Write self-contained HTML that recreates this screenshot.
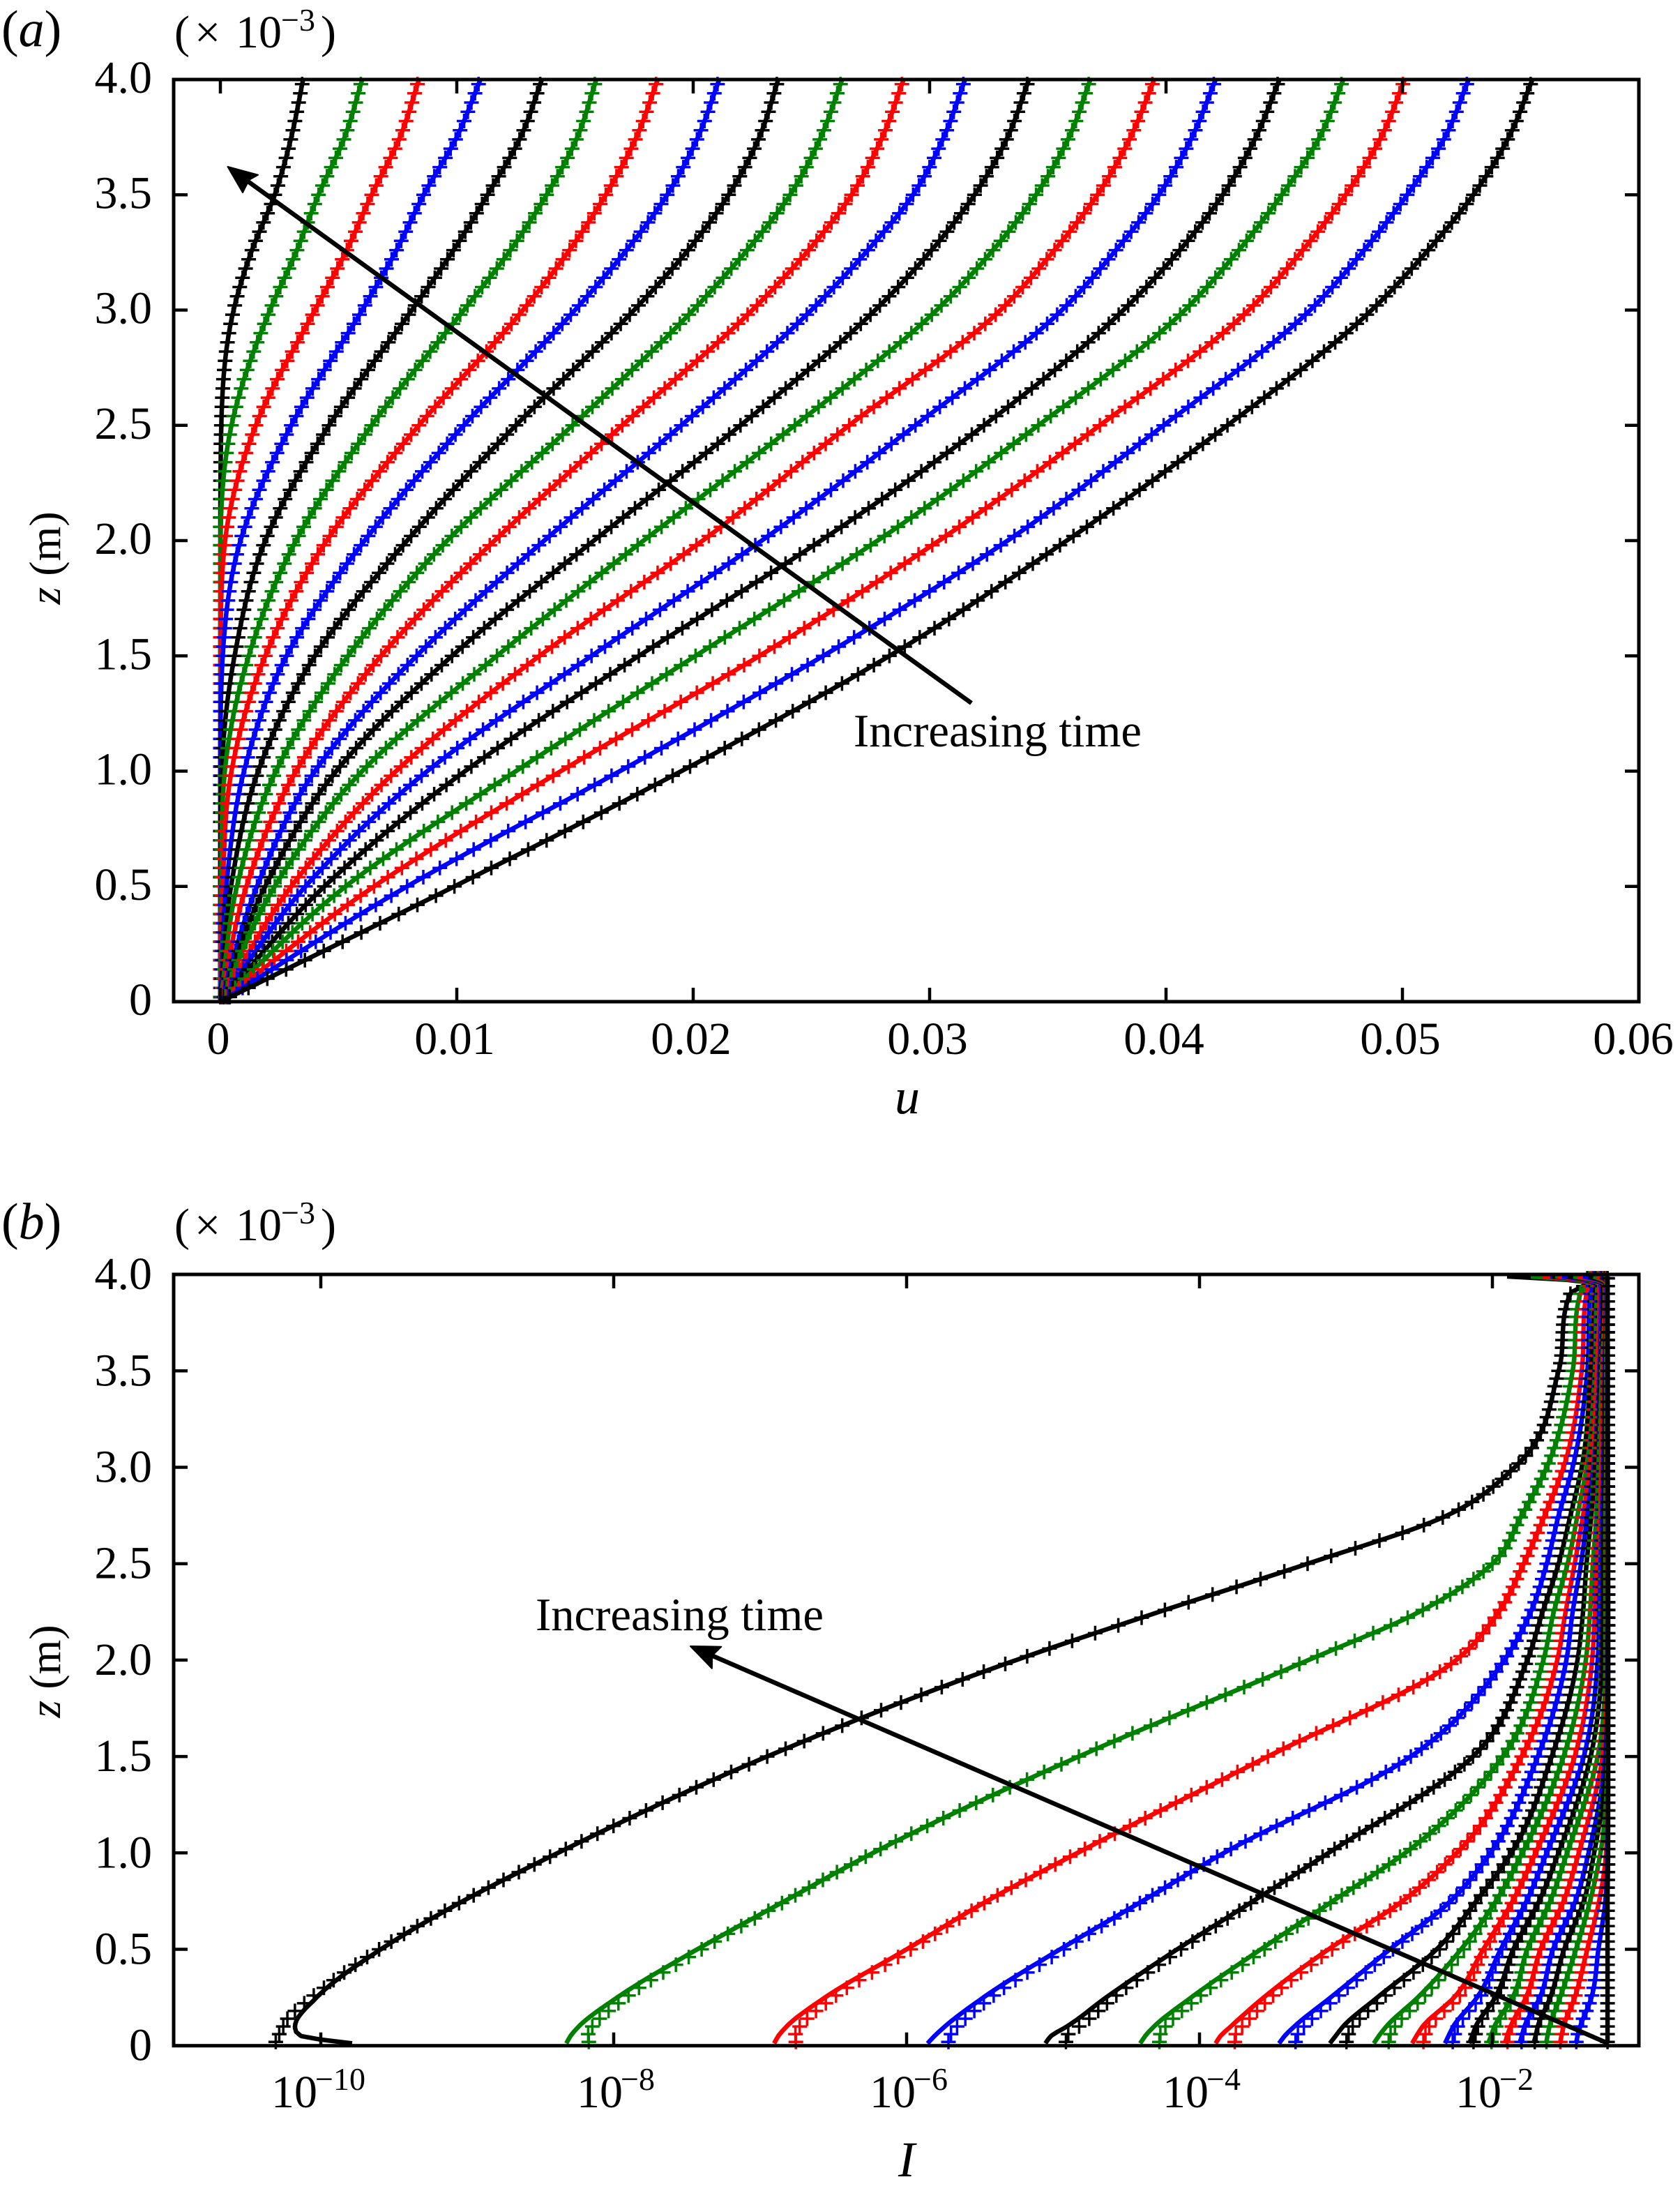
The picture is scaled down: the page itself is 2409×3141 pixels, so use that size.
<!DOCTYPE html>
<html lang="en">
<head>
<meta charset="utf-8">
<title>Velocity and intensity profiles</title>
<style>
html,body{margin:0;padding:0;background:#fff}
svg{display:block}
text{font-family:"Liberation Serif",serif;fill:#000}
.tick-text{font-size:66px}
.sup-text{font-size:46px}
.it{font-style:italic}
</style>
</head>
<body>
<svg id="chart" xmlns="http://www.w3.org/2000/svg" width="2409" height="3141" viewBox="0 0 2409 3141">
  <rect x="0" y="0" width="2409" height="3141" fill="#fff"/>
  <g id="panelA"></g>
  <g id="panelB"></g>

  <g>
    <text x="2" y="66" font-size="74"><tspan>(</tspan><tspan class="it">a</tspan><tspan>)</tspan></text>
    <text x="250" y="68" font-size="66">(</text>
    <text x="279" y="68" font-size="66">×</text>
    <text x="338" y="68" font-size="66">10</text>
    <text x="403" y="44" class="sup-text">−3</text>
    <text x="460" y="68" font-size="66">)</text>
    <text x="1301" y="1596" font-size="72" class="it" text-anchor="middle">u</text>
    <text transform="translate(86,800) rotate(-90)" font-size="64" text-anchor="middle"><tspan class="it">z</tspan> (m)</text>
    <line x1="1393" y1="1008" x2="350" y2="256" stroke="#000" stroke-width="6.5"/>
    <polygon points="326.5,239 370,250.7 357,258 348,276" fill="#000" stroke="#000" stroke-width="2" stroke-linejoin="round"/>
    <text x="1224" y="1070" font-size="66.7">Increasing time</text>
  </g>

  <g>
    <text x="2" y="1776" font-size="74"><tspan>(</tspan><tspan class="it">b</tspan><tspan>)</tspan></text>
    <text x="250" y="1778" font-size="66">(</text>
    <text x="279" y="1778" font-size="66">×</text>
    <text x="338" y="1778" font-size="66">10</text>
    <text x="403" y="1754" class="sup-text">−3</text>
    <text x="460" y="1778" font-size="66">)</text>
    <text x="1300" y="3120" font-size="72" class="it" text-anchor="middle">I</text>
    <text transform="translate(86,2396) rotate(-90)" font-size="64" text-anchor="middle"><tspan class="it">z</tspan> (m)</text>
    <line x1="2305" y1="2929" x2="1020" y2="2373" stroke="#000" stroke-width="6.5"/>
    <polygon points="990,2360 1034.3,2360.7 1021.2,2373.5 1020.9,2391.9" fill="#000" stroke="#000" stroke-width="2" stroke-linejoin="round"/>
    <text x="768" y="2337" font-size="66.7">Increasing time</text>
  </g>
</svg>

<script>
// ---------- shared data ----------
const seriesColors = ['#000','#008000','#f00','#00f'];
const yTickValues = [0,0.5,1,1.5,2,2.5,3,3.5,4];
const yTickLabels = ['0','0.5','1.0','1.5','2.0','2.5','3.0','3.5','4.0'];
const markerCount = 100;
const markerStart = 0.02;
const markerStep = 0.04;

// ---------- panel (a) data: u at each z knot, one row per curve ----------
const uTickValues = [0,0.01,0.02,0.03,0.04,0.05,0.06];
const uTickLabels = ['0','0.01','0.02','0.03','0.04','0.05','0.06'];
const zKnotsA = [0,0.5,1,1.5,2,2.5,3,3.25,3.5,3.75,4];
const uCurve00 = [0,0,0,0,0,0.00004,0.00056,0.0013,0.0023,0.0030,0.0035];
const uCurve01 = [0,0,0,0,0.00001,0.00047,0.0021,0.0032,0.00415,0.00526,0.0060];
const uCurve02 = [0,0,0,0.00001,0.0002,0.0015,0.0040,0.0053,0.0064,0.0076,0.0084];
const uCurve03 = [0,0,0,0.0001,0.00085,0.0030,0.0060,0.0074,0.0086,0.0100,0.0110];
const uCurve04 = [0,0,0.00006,0.0006,0.0019,0.0046,0.0081,0.0098,0.0113,0.0127,0.0136];
const uCurve05 = [0,0.00003,0.00019,0.0012,0.0032,0.0064,0.0103,0.0122,0.0138,0.0151,0.0159];
const uCurve06 = [0,0.0001,0.00047,0.0019,0.0045,0.0084,0.0128,0.0147,0.0163,0.0176,0.0185];
const uCurve07 = [0,0.00025,0.0010,0.0028,0.0061,0.0103,0.0150,0.0171,0.0189,0.0202,0.0211];
const uCurve08 = [0,0.00045,0.0016,0.0040,0.0079,0.0125,0.0175,0.0197,0.0215,0.0228,0.0236];
const uCurve09 = [0,0.0007,0.00235,0.0054,0.0096,0.0149,0.0200,0.0222,0.0241,0.0254,0.0263];
const uCurve10 = [0,0.0011,0.0032,0.0068,0.0116,0.0170,0.0225,0.0248,0.0267,0.0280,0.0289];
const uCurve11 = [0,0.00155,0.0040,0.0083,0.0137,0.0195,0.0250,0.0273,0.0293,0.0306,0.0315];
const uCurve12 = [0,0.0019,0.0049,0.0098,0.0158,0.0220,0.0277,0.0300,0.0319,0.0333,0.0342];
const uCurve13 = [0,0.0023,0.0060,0.0117,0.0179,0.0243,0.0303,0.0326,0.0345,0.0359,0.0368];
const uCurve14 = [0,0.0030,0.00743,0.0135,0.0204,0.0266,0.0330,0.0352,0.0371,0.0385,0.0395];
const uCurve15 = [0,0.0036,0.00875,0.0157,0.0229,0.0294,0.0356,0.0378,0.0397,0.0411,0.0421];
const uCurve16 = [0,0.0044,0.01035,0.0177,0.0254,0.0323,0.0382,0.0405,0.0424,0.0438,0.0448];
const uCurve17 = [0,0.0053,0.0125,0.0201,0.0278,0.0346,0.0408,0.0430,0.0449,0.0465,0.0475];
const uCurve18 = [0,0.0065,0.0144,0.0228,0.0304,0.0372,0.0435,0.0457,0.0476,0.0491,0.0501];
const uCurve19 = [0,0.0079,0.0169,0.0255,0.0333,0.0399,0.0461,0.0483,0.0502,0.0518,0.0528];
const uCurve20 = [0,0.0099,0.0195,0.0283,0.0358,0.0426,0.0487,0.0510,0.0530,0.0545,0.0555];
const uCurves = [uCurve00,uCurve01,uCurve02,uCurve03,uCurve04,uCurve05,uCurve06,uCurve07,uCurve08,uCurve09,uCurve10,uCurve11,uCurve12,uCurve13,uCurve14,uCurve15,uCurve16,uCurve17,uCurve18,uCurve19,uCurve20];

// ---------- panel (b) data: log10(I) at each z knot, one row per curve ----------
const iTickExponents = [-10,-8,-6,-4,-2];
const iTickLabels = ['−10','−8','−6','−4','−2'];
const zKnotsB = [0.012,0.05,0.1,0.25,0.5,0.75,1,1.5,2,2.25,2.5,2.75,3,3.5,3.9,3.96,3.99];
const logICurve00 = [-9.786,-10.133,-10.176,-10.029,-9.590,-9.029,-8.381,-6.952,-5.252,-4.276,-3.262,-2.310,-1.848,-1.548,-1.467,-1.352,-1.900];
const logICurve01 = [-8.324,-8.295,-8.238,-7.976,-7.429,-6.833,-6.229,-4.824,-3.257,-2.500,-2.000,-1.800,-1.629,-1.452,-1.400,-1.338,-1.738];
const logICurve02 = [-6.905,-6.876,-6.819,-6.557,-6.000,-5.452,-4.833,-3.533,-2.248,-1.957,-1.786,-1.643,-1.514,-1.390,-1.357,-1.324,-1.657];
const logICurve03 = [-5.857,-5.810,-5.738,-5.476,-4.952,-4.390,-3.833,-2.557,-1.919,-1.738,-1.629,-1.548,-1.452,-1.352,-1.329,-1.310,-1.605];
const logICurve04 = [-5.052,-5.014,-4.905,-4.638,-4.152,-3.633,-3.119,-2.133,-1.762,-1.657,-1.548,-1.467,-1.390,-1.329,-1.300,-1.295,-1.590];
const logICurve05 = [-4.405,-4.371,-4.310,-4.057,-3.581,-3.090,-2.595,-1.929,-1.652,-1.581,-1.486,-1.419,-1.357,-1.300,-1.286,-1.281,-1.571];
const logICurve06 = [-3.890,-3.857,-3.786,-3.562,-3.119,-2.614,-2.243,-1.800,-1.557,-1.500,-1.438,-1.381,-1.333,-1.290,-1.271,-1.271,-1.557];
const logICurve07 = [-3.457,-3.419,-3.352,-3.105,-2.700,-2.286,-2.014,-1.690,-1.495,-1.452,-1.395,-1.352,-1.310,-1.271,-1.257,-1.262,-1.524];
const logICurve08 = [-3.110,-3.071,-3.019,-2.786,-2.381,-2.110,-1.871,-1.595,-1.419,-1.381,-1.357,-1.324,-1.300,-1.262,-1.243,-1.252,-1.486];
const logICurve09 = [-2.810,-2.776,-2.724,-2.510,-2.214,-1.976,-1.795,-1.514,-1.362,-1.333,-1.314,-1.290,-1.276,-1.252,-1.233,-1.243,-1.448];
const logICurve10 = [-2.548,-2.519,-2.476,-2.262,-2.062,-1.862,-1.705,-1.438,-1.319,-1.300,-1.286,-1.267,-1.257,-1.243,-1.229,-1.238,-1.419];
const logICurve11 = [-2.324,-2.300,-2.267,-2.105,-1.943,-1.767,-1.629,-1.376,-1.281,-1.271,-1.262,-1.252,-1.243,-1.233,-1.224,-1.233,-1.381];
const logICurve12 = [-2.157,-2.138,-2.114,-1.981,-1.857,-1.681,-1.548,-1.329,-1.252,-1.248,-1.243,-1.238,-1.233,-1.229,-1.219,-1.229,-1.343];
const logICurve13 = [-2.029,-2.010,-1.986,-1.862,-1.762,-1.605,-1.490,-1.281,-1.229,-1.229,-1.229,-1.229,-1.224,-1.224,-1.219,-1.224,-1.310];
const logICurve14 = [-1.914,-1.900,-1.876,-1.771,-1.671,-1.514,-1.410,-1.248,-1.219,-1.219,-1.219,-1.219,-1.219,-1.219,-1.219,-1.219,-1.286];
const logICurve15 = [-1.814,-1.800,-1.781,-1.676,-1.586,-1.433,-1.343,-1.229,-1.214,-1.214,-1.214,-1.214,-1.214,-1.214,-1.214,-1.214,-1.262];
const logICurve16 = [-1.719,-1.705,-1.690,-1.605,-1.510,-1.376,-1.305,-1.219,-1.212,-1.212,-1.214,-1.214,-1.214,-1.214,-1.214,-1.214,-1.248];
const logICurve17 = [-1.633,-1.624,-1.610,-1.538,-1.429,-1.333,-1.262,-1.214,-1.210,-1.212,-1.212,-1.214,-1.214,-1.214,-1.214,-1.214,-1.238];
const logICurve18 = [-1.538,-1.529,-1.514,-1.438,-1.352,-1.271,-1.224,-1.210,-1.210,-1.210,-1.212,-1.212,-1.214,-1.214,-1.214,-1.214,-1.229];
const logICurve19 = [-1.429,-1.419,-1.400,-1.324,-1.276,-1.229,-1.214,-1.210,-1.210,-1.210,-1.210,-1.212,-1.212,-1.214,-1.214,-1.214,-1.219];
const logICurve20 = [-1.214,-1.214,-1.214,-1.214,-1.214,-1.214,-1.210,-1.210,-1.210,-1.210,-1.210,-1.210,-1.212,-1.212,-1.214,-1.214,-1.214];
const logICurves = [logICurve00,logICurve01,logICurve02,logICurve03,logICurve04,logICurve05,logICurve06,logICurve07,logICurve08,logICurve09,logICurve10,logICurve11,logICurve12,logICurve13,logICurve14,logICurve15,logICurve16,logICurve17,logICurve18,logICurve19,logICurve20];

// marker series in (b) depart from the line near z = 0: difference in decades
const markerShiftZ = [0.02,0.06,0.1,0.3,0.8];
const markerShift00 = [-0.44,-0.13,-0.08,-0.02,0];
const markerShift01 = [0.148,0.111,0.092,0.049,0];
const markerShift02 = [0.143,0.107,0.089,0.047,0];
const markerShift03 = [0.133,0.100,0.083,0.044,0];
const markerShift04 = [0.133,0.100,0.083,0.044,0];
const markerShift05 = [0.124,0.093,0.077,0.041,0];
const markerShift06 = [0.124,0.093,0.077,0.041,0];
const markerShift07 = [0.105,0.079,0.065,0.035,0];
const markerShift08 = [0.105,0.079,0.065,0.035,0];
const markerShift09 = [0.095,0.071,0.059,0.031,0];
const markerShift10 = [0.071,0.054,0.044,0.024,0];
const markerShift11 = [0.048,0.036,0.030,0.016,0];
const markerShift12 = [0.024,0.018,0.015,0.008,0];
const markerShift13 = [0.019,0.014,0.012,0.006,0];
const markerShift14 = [0.014,0.011,0.009,0.005,0];
const markerShift15 = [0.010,0.007,0.006,0.003,0];
const markerShift16 = [0.005,0.004,0.003,0.002,0];
const markerShift17 = [0,0,0,0,0];
const markerShift18 = [0,0,0,0,0];
const markerShift19 = [0,0,0,0,0];
const markerShift20 = [0,0,0,0,0];
const markerShifts = [markerShift00,markerShift01,markerShift02,markerShift03,markerShift04,markerShift05,markerShift06,markerShift07,markerShift08,markerShift09,markerShift10,markerShift11,markerShift12,markerShift13,markerShift14,markerShift15,markerShift16,markerShift17,markerShift18,markerShift19,markerShift20];

// ---------- axis functions ----------
const frameA = {left:249, right:2350, top:114, bottom:1436};
const frameB = {left:249, right:2350, top:1827, bottom:2932.7};
function xU(u){ return 316 + u*33900; }
function yA(z){ return frameA.bottom - z*330.5; }
function xI(logI){ return 2140 + (logI+2)*210; }
function yB(z){ return frameB.bottom - z*276.4; }

// ---------- helpers ----------
const NS = 'http://www.w3.org/2000/svg';
function svgEl(tag){ return document.createElementNS(NS, tag); }

function smoothCurve(xs, ys){
  const n = xs.length, d = [], m = new Array(n);
  for(let i=0;i<n-1;i++) d.push((ys[i+1]-ys[i])/(xs[i+1]-xs[i]));
  m[0] = d[0]; m[n-1] = d[n-2];
  for(let i=1;i<n-1;i++){
    if(d[i-1]*d[i] <= 0){ m[i] = 0; }
    else{
      const h0 = xs[i]-xs[i-1], h1 = xs[i+1]-xs[i];
      const avg = (h1*d[i-1]+h0*d[i])/(h0+h1);
      const lim = 3*Math.min(Math.abs(d[i-1]), Math.abs(d[i]));
      m[i] = Math.sign(avg)*Math.min(Math.abs(avg), lim);
    }
  }
  return function(x){
    if(x <= xs[0]) return ys[0];
    if(x >= xs[n-1]) return ys[n-1];
    let i = 0;
    while(x > xs[i+1]) i++;
    const h = xs[i+1]-xs[i], t = (x-xs[i])/h, t2 = t*t, t3 = t2*t;
    return (2*t3-3*t2+1)*ys[i] + (t3-2*t2+t)*h*m[i] + (-2*t3+3*t2)*ys[i+1] + (t3-t2)*h*m[i+1];
  };
}
function linear(xs, ys, x){
  if(x <= xs[0]) return ys[0];
  if(x >= xs[xs.length-1]) return ys[ys.length-1];
  let i = 0;
  while(x > xs[i+1]) i++;
  return ys[i] + (ys[i+1]-ys[i])*(x-xs[i])/(xs[i+1]-xs[i]);
}
function sampleZ(knots, step){
  const set = knots.slice();
  for(let z=knots[0]; z<knots[knots.length-1]; z+=step) set.push(z);
  return set.sort(function(a,b){return a-b;});
}

function drawFrame(group, f){
  const rect = svgEl('rect');
  
  
  rect.setAttribute('x', f.left);
  rect.setAttribute('y', f.top);
  rect.setAttribute('width', f.right-f.left);
  rect.setAttribute('height', f.bottom-f.top);
  rect.setAttribute('fill', 'none');
  rect.setAttribute('stroke', '#000');
  rect.setAttribute('stroke-width', '5');
  group.appendChild(rect);
}
function drawTickLine(group, x1, y1, x2, y2){
  const t = svgEl('line');
  
  
  t.setAttribute('x1', x1);
  t.setAttribute('y1', y1);
  t.setAttribute('x2', x2);
  t.setAttribute('y2', y2);
  t.setAttribute('stroke', '#000');
  t.setAttribute('stroke-width', '4.5');
  group.appendChild(t);
}
function drawYAxis(group, f, yFn, base){
  yTickValues.forEach(function(v, i){
    const y = yFn(v);
    if(i > 0 && i < yTickValues.length-1){
      drawTickLine(group, f.left, y, f.left+20, y);
      drawTickLine(group, f.right-20, y, f.right, y);
    }
    const label = svgEl('text');
    
    
    label.setAttribute('class', 'tick-text');
    label.setAttribute('x', 218);
    label.setAttribute('y', y+base);
    label.setAttribute('text-anchor', 'end');
    label.textContent = yTickLabels[i];
    group.appendChild(label);
  });
}
function drawCurve(group, points, marks, color){
  const markerPath = svgEl('path');
  
  
  markerPath.setAttribute('d', marks.map(function(p){
    return 'M'+(p[0]-10.5).toFixed(1)+' '+p[1].toFixed(1)+'h21M'+p[0].toFixed(1)+' '+(p[1]-10.5).toFixed(1)+'v21';
  }).join(''));
  markerPath.setAttribute('fill', 'none');
  markerPath.setAttribute('stroke', color);
  markerPath.setAttribute('stroke-width', '3.5');
  group.appendChild(markerPath);

  const line = svgEl('polyline');
  
  
  line.setAttribute('points', points.map(function(p){ return p[0].toFixed(1)+','+p[1].toFixed(1); }).join(' '));
  line.setAttribute('fill', 'none');
  line.setAttribute('stroke', color);
  line.setAttribute('stroke-width', '6.5');
  line.setAttribute('stroke-linejoin', 'round');
  group.appendChild(line);
}

// ---------- panel (a) ----------
(function(){
  const g = document.getElementById('panelA');
  uCurves.forEach(function(row, i){
    const f = smoothCurve(zKnotsA, row);
    const pts = sampleZ(zKnotsA, 0.04).map(function(z){ return [xU(Math.max(0,f(z))), yA(z)]; });
    const marks = [];
    for(let k=0;k<markerCount;k++){
      const z = markerStart + k*markerStep;
      marks.push([xU(Math.max(0,f(z))), yA(z)]);
    }
    drawCurve(g, pts, marks, seriesColors[i%4]);
  });
  drawFrame(g, frameA);
  drawYAxis(g, frameA, yA, 19);
  uTickValues.forEach(function(v, i){
    const x = xU(v);
    if(i < uTickValues.length-1){
      drawTickLine(g, x, frameA.bottom, x, frameA.bottom-20);
      drawTickLine(g, x, frameA.top, x, frameA.top+20);
    }
    const label = svgEl('text');
    
    
    label.setAttribute('class', 'tick-text');
    label.setAttribute('x', i === uTickValues.length-1 ? x-8 : x-3);
    label.setAttribute('y', 1511);
    label.setAttribute('text-anchor', 'middle');
    label.textContent = uTickLabels[i];
    g.appendChild(label);
  });
})();

// ---------- panel (b) ----------
(function(){
  const g = document.getElementById('panelB');
  logICurves.forEach(function(row, i){
    const f = smoothCurve(zKnotsB, row);
    const pts = sampleZ(zKnotsB, 0.02).map(function(z){ return [xI(f(z)), yB(z)]; });
    const marks = [];
    for(let k=0;k<markerCount;k++){
      const z = markerStart + k*markerStep;
      const v = f(Math.min(z, 3.96)) + linear(markerShiftZ, markerShifts[i], z);
      marks.push([xI(v), yB(z)]);
    }
    drawCurve(g, pts, marks, seriesColors[i%4]);
  });
  drawFrame(g, frameB);
  drawYAxis(g, frameB, yB, 21);
  iTickExponents.forEach(function(e, i){
    const x = xI(e);
    drawTickLine(g, x, frameB.bottom, x, frameB.bottom-19);
    drawTickLine(g, x, frameB.top, x, frameB.top+20);
    const wide = iTickLabels[i].length > 2;
    const start = x - (wide ? 71 : 53);
    const base = svgEl('text');
    
    
    base.setAttribute('class', 'tick-text');
    base.setAttribute('x', start);
    base.setAttribute('y', 3021);
    base.textContent = '10';
    g.appendChild(base);
    const sup = svgEl('text');
    
    
    sup.setAttribute('class', 'sup-text');
    sup.setAttribute('x', start+63);
    sup.setAttribute('y', 2996);
    sup.textContent = iTickLabels[i];
    g.appendChild(sup);
  });
})();
</script>
</body>
</html>
